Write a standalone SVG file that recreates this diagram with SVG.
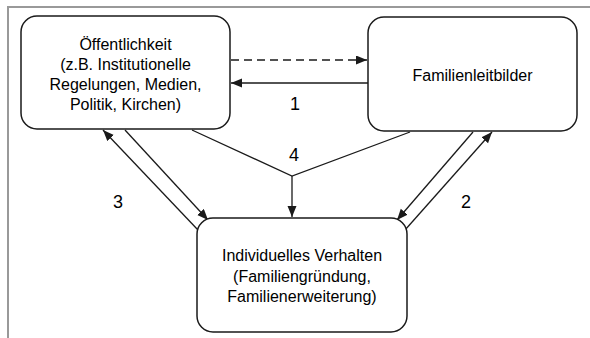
<svg xmlns="http://www.w3.org/2000/svg" width="590" height="338" viewBox="0 0 590 338">
<defs>
<style>
.frame{stroke:#999;stroke-width:2;fill:none}
.box{fill:#fff;stroke:#1a1a1a;stroke-width:1.5}
.ln{stroke:#1a1a1a;stroke-width:1.3;fill:none}
.dash{stroke-dasharray:8,5}
text{font-family:"Liberation Sans",Arial,sans-serif;font-size:16px;fill:#000;text-anchor:middle}
.num{font-size:18px}
</style>
<marker id="ah" markerUnits="userSpaceOnUse" markerWidth="12" markerHeight="10" refX="11" refY="4.5" orient="auto">
<path d="M0,0 L11,4.5 L0,9 z" fill="#1a1a1a"/>
</marker>
</defs>
<rect width="590" height="338" fill="#fff"/>
<path class="frame" d="M8,338 L8,7 L590,7"/>
<g id="connectors">
<line class="ln dash" x1="231" y1="60" x2="367" y2="60" marker-end="url(#ah)"/>
<line class="ln" x1="368" y1="83" x2="231" y2="83" marker-end="url(#ah)"/>
<polyline class="ln" points="192,130 292,176 410,132"/>
<line class="ln" x1="292" y1="176" x2="292" y2="217" marker-end="url(#ah)"/>
<line class="ln" x1="198" y1="230" x2="103" y2="130" marker-end="url(#ah)"/>
<line class="ln" x1="125" y1="130" x2="208" y2="220" marker-end="url(#ah)"/>
<line class="ln" x1="405" y1="230" x2="492" y2="132" marker-end="url(#ah)"/>
<line class="ln" x1="473" y1="132" x2="397" y2="220" marker-end="url(#ah)"/>
<text class="num" x="295" y="110">1</text>
<text class="num" x="466" y="208">2</text>
<text class="num" x="118" y="208">3</text>
<text class="num" x="294" y="161">4</text>
</g>
<g id="oeffentlichkeit">
<rect class="box" x="21" y="16" width="209" height="113" rx="16"/>
<text x="125.5" y="50">Öffentlichkeit</text>
<text x="125.5" y="70">(z.B. Institutionelle</text>
<text x="125.5" y="90">Regelungen, Medien,</text>
<text x="125.5" y="110">Politik, Kirchen)</text>
</g>
<g id="familienleitbilder">
<rect class="box" x="368" y="17" width="209" height="114" rx="16"/>
<text x="472.5" y="81">Familienleitbilder</text>
</g>
<g id="verhalten">
<rect class="box" x="197" y="218" width="210" height="114" rx="16"/>
<text x="302" y="261">Individuelles Verhalten</text>
<text x="302" y="282">(Familiengründung,</text>
<text x="302" y="302">Familienerweiterung)</text>
</g>
</svg>
